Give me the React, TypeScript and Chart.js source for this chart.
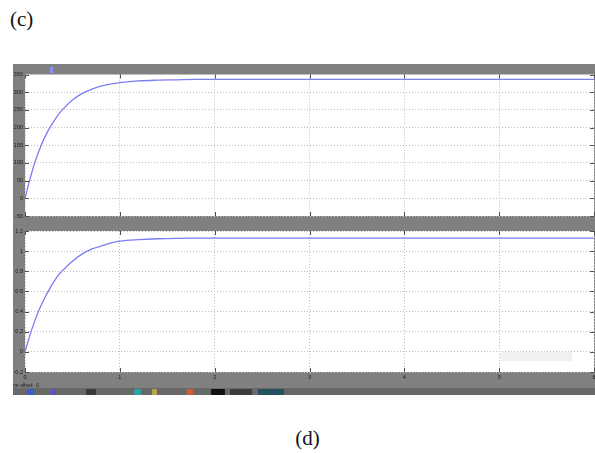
import React, { useEffect, useRef } from "react";
import { Chart, registerables } from "chart.js";

Chart.register(...registerables);

// ---- data (Simulink scope, two traces) ----
const timeS = [0, 0.05, 0.1, 0.15, 0.2, 0.25, 0.3, 0.35, 0.4, 0.5, 0.6, 0.7, 0.8, 0.9, 1.0, 1.2, 1.4, 1.6, 1.8, 2.0, 3.0, 4.0, 5.0, 6.0];
const topTrace = [0, 52, 98, 136, 168, 194, 216, 236, 252, 278, 296, 308, 317, 323, 327, 332, 334, 335, 336, 336, 336, 336, 336, 336];
const bottomTrace = [0, 0.16, 0.3, 0.42, 0.52, 0.61, 0.69, 0.76, 0.81, 0.9, 0.97, 1.02, 1.05, 1.08, 1.1, 1.115, 1.123, 1.127, 1.129, 1.13, 1.13, 1.13, 1.13, 1.13];
const topTicks = [-50, 0, 50, 100, 150, 200, 250, 300, 350];
const bottomTicks = [-0.2, 0, 0.2, 0.4, 0.6, 0.8, 1, 1.2];
const xTicks = [0, 1, 2, 3, 4, 5, 6];
const captionTop = "(c)";
const captionBottom = "(d)";
const offsetLabel = "ne offset:  0";

const LINE = "#7c7cf4";
const GRAY = "#808080";

const scopePlugin = {
  id: "scopeLook",
  beforeDraw(chart: any) {
    const { ctx, chartArea: a } = chart;
    ctx.save();
    ctx.fillStyle = "#ffffff";
    ctx.fillRect(a.left, a.top, a.right - a.left, a.bottom - a.top);
    ctx.restore();
  },
  afterDraw(chart: any) {
    const { ctx, chartArea: a, scales } = chart;
    ctx.save();
    ctx.strokeStyle = "#505050";
    ctx.lineWidth = 1;
    ctx.beginPath();
    scales.y.ticks.forEach((t: any) => {
      const y = Math.round(scales.y.getPixelForValue(t.value)) + 0.5;
      ctx.moveTo(a.left, y);
      ctx.lineTo(a.left + 4, y);
      ctx.moveTo(a.right - 4, y);
      ctx.lineTo(a.right, y);
    });
    scales.x.ticks.forEach((t: any) => {
      const x = Math.round(scales.x.getPixelForValue(t.value)) + 0.5;
      ctx.moveTo(x, a.bottom);
      ctx.lineTo(x, a.bottom - 4);
      ctx.moveTo(x, a.top);
      ctx.lineTo(x, a.top + 4);
    });
    ctx.stroke();
    ctx.restore();
  },
};

const fmt = (v: any) => String(Math.round(Number(v) * 10) / 10);

function makeConfig(values: number[], yTicks: number[], showX: boolean, padTop: number, xHeight: number) {
  return {
    type: "line" as const,
    data: {
      labels: timeS,
      datasets: [
        {
          data: timeS.map((t, i) => ({ x: t, y: values[i] })),
          borderColor: LINE,
          borderWidth: 1.3,
          pointRadius: 0,
          cubicInterpolationMode: "monotone" as const,
          fill: false,
        },
      ],
    },
    options: {
      responsive: false,
      animation: false as const,
      events: [],
      layout: { padding: { top: padTop, right: 1, left: 0, bottom: 0 } },
      plugins: { legend: { display: false }, tooltip: { enabled: false } },
      scales: {
        x: {
          type: "linear" as const,
          min: xTicks[0],
          max: xTicks[xTicks.length - 1],
          afterBuildTicks: (ax: any) => {
            ax.ticks = xTicks.map((v) => ({ value: v }));
          },
          ticks: {
            display: showX,
            font: { size: 5.5, family: "Liberation Sans" },
            color: "#1a1a1a",
            padding: 2,
            maxRotation: 0,
            callback: fmt,
          },
          grid: { color: "#bdbdbd", drawTicks: false, lineWidth: 1 },
          border: { display: false, dash: [1, 2] },
          afterFit: (s: any) => {
            s.height = xHeight;
            s.paddingLeft = 0;
            s.paddingRight = 0;
          },
        },
        y: {
          type: "linear" as const,
          min: yTicks[0],
          max: yTicks[yTicks.length - 1],
          afterBuildTicks: (ax: any) => {
            ax.ticks = yTicks.map((v) => ({ value: v }));
          },
          ticks: {
            font: { size: 5.5, family: "Liberation Sans" },
            color: "#1a1a1a",
            padding: 2,
            callback: fmt,
          },
          grid: { color: "#bdbdbd", drawTicks: false, lineWidth: 1 },
          border: { display: false, dash: [1, 2] },
          afterFit: (s: any) => {
            s.width = 12;
            s.paddingTop = 0;
            s.paddingBottom = 0;
          },
        },
      },
    },
    plugins: [scopePlugin],
  };
}

export default function App() {
  const topRef = useRef<HTMLCanvasElement | null>(null);
  const botRef = useRef<HTMLCanvasElement | null>(null);

  useEffect(() => {
    const c1 = new Chart(topRef.current as HTMLCanvasElement, makeConfig(topTrace, topTicks, false, 10.5, 8) as any);
    const c2 = new Chart(botRef.current as HTMLCanvasElement, makeConfig(bottomTrace, bottomTicks, true, 7, 16) as any);
    return () => {
      c1.destroy();
      c2.destroy();
    };
  }, []);

  const icons = [
    { x: 27, w: 7, c: "#3b5bd6" },
    { x: 50, w: 6, c: "#6a4fb0" },
    { x: 86, w: 10, c: "#3a3a3a" },
    { x: 134, w: 7, c: "#2aa7a0" },
    { x: 152, w: 5, c: "#b8a64a" },
    { x: 187, w: 6, c: "#d2622a" },
    { x: 211, w: 14, c: "#111111" },
    { x: 230, w: 22, c: "#3c3c3c" },
    { x: 258, w: 26, c: "#24515e" },
  ];

  return (
    <div style={{ position: "absolute", left: 0, top: 0, width: 595, height: 453, background: "#fff", overflow: "hidden" }}>
      <div style={{ position: "absolute", left: 10, top: 5, fontFamily: "'Liberation Serif', serif", fontSize: 21, color: "#111", lineHeight: "28px" }}>
        {captionTop}
      </div>
      <div style={{ position: "absolute", left: 13, top: 64, width: 582, height: 324, background: GRAY }} />
      <div style={{ position: "absolute", left: 50, top: 67, width: 3, height: 6, background: "#8f8ff8" }} />
      <canvas ref={topRef} width={582} height={160} style={{ position: "absolute", left: 13, top: 64, width: 582, height: 160 }} />
      <canvas ref={botRef} width={582} height={164} style={{ position: "absolute", left: 13, top: 224, width: 582, height: 164 }} />
      <div style={{ position: "absolute", left: 500, top: 352, width: 72, height: 9, background: "#f1f1f1" }} />
      <div style={{ position: "absolute", left: 13, top: 382, fontFamily: "'Liberation Sans', sans-serif", fontSize: 5, color: "#1a1a1a", lineHeight: "6px", whiteSpace: "pre" }}>
        {offsetLabel}
      </div>
      <div style={{ position: "absolute", left: 13, top: 388, width: 582, height: 7, background: "#686868" }} />
      {icons.map((ic, i) => (
        <div key={i} style={{ position: "absolute", left: ic.x, top: 389, width: ic.w, height: 6, background: ic.c, borderRadius: 1 }} />
      ))}
      <div style={{ position: "absolute", left: 0, width: 595, top: 424, textAlign: "center", paddingLeft: 20, boxSizing: "border-box", fontFamily: "'Liberation Serif', serif", fontSize: 21, color: "#111", lineHeight: "28px" }}>
        {captionBottom}
      </div>
    </div>
  );
}
